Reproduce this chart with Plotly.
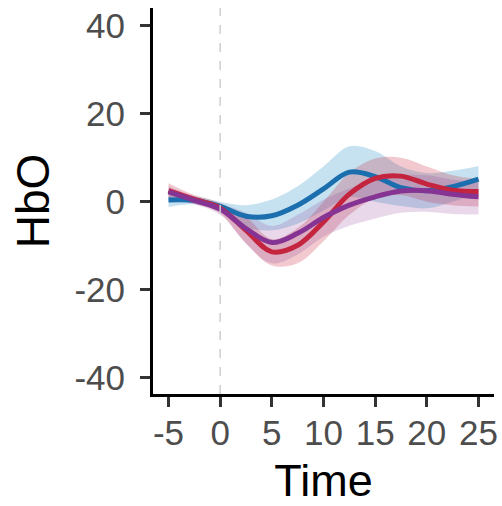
import plotly.graph_objects as go

time = [-5, -2.5, 0, 2.5, 5, 7.5, 10, 12.5, 15, 17.5, 20, 22.5, 25]

blue_mean = [0.4, 0.3, -1.1, -3.3, -3.2, -0.8, 2.9, 6.7, 5.7, 3.2, 2.5, 3.4, 5.1]
blue_upper = [1.5, 1.3, 0.0, -0.8, 0.5, 3.5, 8.0, 12.6, 11.5, 8.0, 6.5, 7.0, 8.1]
blue_lower = [-1.2, -0.6, -2.2, -5.8, -6.5, -5.0, -2.0, 1.0, 0.0, -1.0, -1.5, 0.0, 2.1]

red_mean = [2.5, 0.5, -1.5, -6.5, -11.4, -9.9, -4.6, 1.7, 5.3, 5.8, 4.0, 2.6, 2.3]
red_upper = [4.2, 1.5, -0.3, -3.5, -8.5, -6.0, 0.0, 6.5, 9.8, 10.0, 8.0, 6.0, 5.2]
red_lower = [0.8, -0.5, -2.7, -9.5, -14.5, -14.0, -9.0, -3.0, 0.8, 1.5, 0.0, -0.8, -1.1]

purple_mean = [2.2, 0.3, -1.7, -6.1, -9.3, -7.2, -3.6, -0.8, 1.1, 2.4, 2.5, 1.7, 1.1]
purple_upper = [3.5, 1.2, -0.5, -2.5, -5.5, -3.0, 0.5, 3.0, 5.0, 6.0, 6.0, 5.0, 4.5]
purple_lower = [0.8, -0.6, -3.0, -9.5, -14.0, -12.0, -8.0, -5.5, -3.8, -2.5, -2.3, -2.8, -2.9]

x_ticks = [-5, 0, 5, 10, 15, 20, 25]
y_ticks = [-40, -20, 0, 20, 40]

series = [
    ("blue", blue_mean, blue_upper, blue_lower, "#1c6fae", "rgba(66,160,205,0.3)"),
    ("red", red_mean, red_upper, red_lower, "#c4243e", "rgba(200,40,62,0.25)"),
    ("purple", purple_mean, purple_upper, purple_lower, "#863493", "rgba(140,60,150,0.2)"),
]

fig = go.Figure()

for name, m, up, lo, lc, fc in series:
    fig.add_trace(go.Scatter(x=time, y=up, mode="lines", line=dict(width=0, shape="spline"),
                             showlegend=False, hoverinfo="skip"))
    fig.add_trace(go.Scatter(x=time, y=lo, mode="lines", line=dict(width=0, shape="spline"),
                             fill="tonexty", fillcolor=fc, showlegend=False, hoverinfo="skip"))

for name, m, up, lo, lc, fc in series:
    fig.add_trace(go.Scatter(x=time, y=m, mode="lines", name=name,
                             line=dict(color=lc, width=5, shape="spline"), showlegend=False))

fig.add_shape(type="line", x0=0, x1=0, xref="x", yref="paper", y0=0, y1=1,
              line=dict(color="#cfcfcf", width=1.5, dash="dash"), layer="above")

fig.update_layout(
    width=502, height=506,
    margin=dict(l=153, r=8, t=8, b=112),
    plot_bgcolor="white", paper_bgcolor="white",
    font=dict(family="Liberation Sans, Arial, sans-serif"),
    showlegend=False,
)
fig.update_xaxes(
    range=[-6.5, 26.5], tickvals=x_ticks, ticktext=[str(v) for v in x_ticks],
    automargin=False, ticklabeloverflow="allow",
    showgrid=False, zeroline=False, showline=True, linecolor="black", linewidth=3,
    ticks="outside", ticklen=10, tickwidth=3, tickcolor="#333333",
    ticklabelstandoff=-4,
    tickfont=dict(size=35, color="#4d4d4d"),
    title=dict(text="Time", font=dict(size=45, color="black"), standoff=24),
)
fig.update_yaxes(
    range=[-43.7, 44.0], tickvals=y_ticks, ticktext=[str(v) for v in y_ticks],
    automargin=False, ticklabeloverflow="allow",
    showgrid=False, zeroline=False, showline=True, linecolor="black", linewidth=3,
    ticks="outside", ticklen=10, tickwidth=3, tickcolor="#333333",
    ticklabelstandoff=8,
    tickfont=dict(size=35, color="#4d4d4d"),
    title=dict(text="HbO", font=dict(size=46, color="black"), standoff=11),
)

# remove the browser's default 8px body margin so the figure sits at the window origin
fig.write_html("out.html", config={"displayModeBar": False},
               post_script="document.body.style.margin='0px';")
